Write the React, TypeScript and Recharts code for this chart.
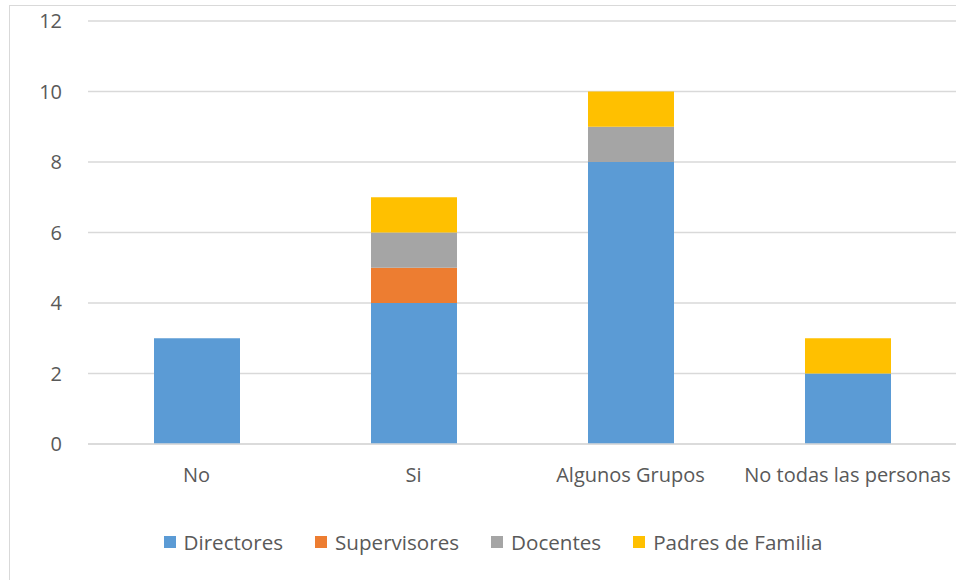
import React from 'react';
import { BarChart, Bar, XAxis, YAxis, CartesianGrid, Legend } from 'recharts';

const categories = ['No', 'Si', 'Algunos Grupos', 'No todas las personas'];
const directores = [3, 4, 8, 2];
const supervisores = [0, 1, 0, 0];
const docentes = [0, 1, 1, 0];
const padres = [0, 1, 1, 1];
const yTicks = [0, 2, 4, 6, 8, 10, 12];

const series = [
  { key: 'directores', name: 'Directores', color: '#5B9BD5' },
  { key: 'supervisores', name: 'Supervisores', color: '#ED7D31' },
  { key: 'docentes', name: 'Docentes', color: '#A5A5A5' },
  { key: 'padres', name: 'Padres de Familia', color: '#FFC000' },
];

const data = categories.map((name, i) => ({
  name,
  directores: directores[i],
  supervisores: supervisores[i],
  docentes: docentes[i],
  padres: padres[i],
}));

const FONT = '"Open Sans", "Segoe UI", sans-serif';
const TEXT = '#595959';

const LegendContent = () => (
  <ul
    style={{
      listStyle: 'none',
      margin: 0,
      padding: 0,
      display: 'flex',
      justifyContent: 'center',
      fontFamily: FONT,
      fontSize: '20.6px',
      color: TEXT,
    }}
  >
    {series.map((s) => (
      <li key={s.key} style={{ display: 'flex', alignItems: 'center', margin: '0 16px' }}>
        <div style={{ width: 12, height: 12, backgroundColor: s.color, marginRight: 8 }} />
        <span>{s.name}</span>
      </li>
    ))}
  </ul>
);

const App = () => (
  <div style={{ position: 'absolute', left: 0, top: 0, width: 956, height: 580, overflow: 'hidden', background: '#fff' }}>
    <div
      style={{
        position: 'absolute',
        left: 9,
        top: 5,
        width: 1000,
        height: 700,
        border: '1px solid #D9D9D9',
      }}
    />
    <div style={{ position: 'absolute', left: 0, top: 0 }}>
      <BarChart
        width={956}
        height={580}
        data={data}
        barSize={86}
        margin={{ top: 21, right: 0, left: 0, bottom: 48 }}
      >
        <CartesianGrid vertical={false} stroke="#D9D9D9" strokeWidth={1.5} />
        <XAxis
          dataKey="name"
          axisLine={{ stroke: '#D9D9D9', strokeWidth: 1.5 }}
          tickLine={false}
          tickSize={0}
          tickMargin={24}
          height={60}
          interval={0}
          tick={{ fill: TEXT, fontSize: 20, fontFamily: FONT }}
        />
        <YAxis
          width={88}
          domain={[0, 12]}
          ticks={yTicks}
          axisLine={false}
          tickLine={false}
          tickSize={0}
          tickMargin={26}
          tick={{ fill: TEXT, fontSize: 20, fontFamily: FONT }}
        />
        {series.map((s) => (
          <Bar
            key={s.key}
            dataKey={s.key}
            name={s.name}
            stackId="a"
            fill={s.color}
            isAnimationActive={false}
          />
        ))}
        <Legend
          wrapperStyle={{ top: 528, left: 15, width: 956 }}
          content={<LegendContent />}
        />
      </BarChart>
    </div>
  </div>
);

export default App;
